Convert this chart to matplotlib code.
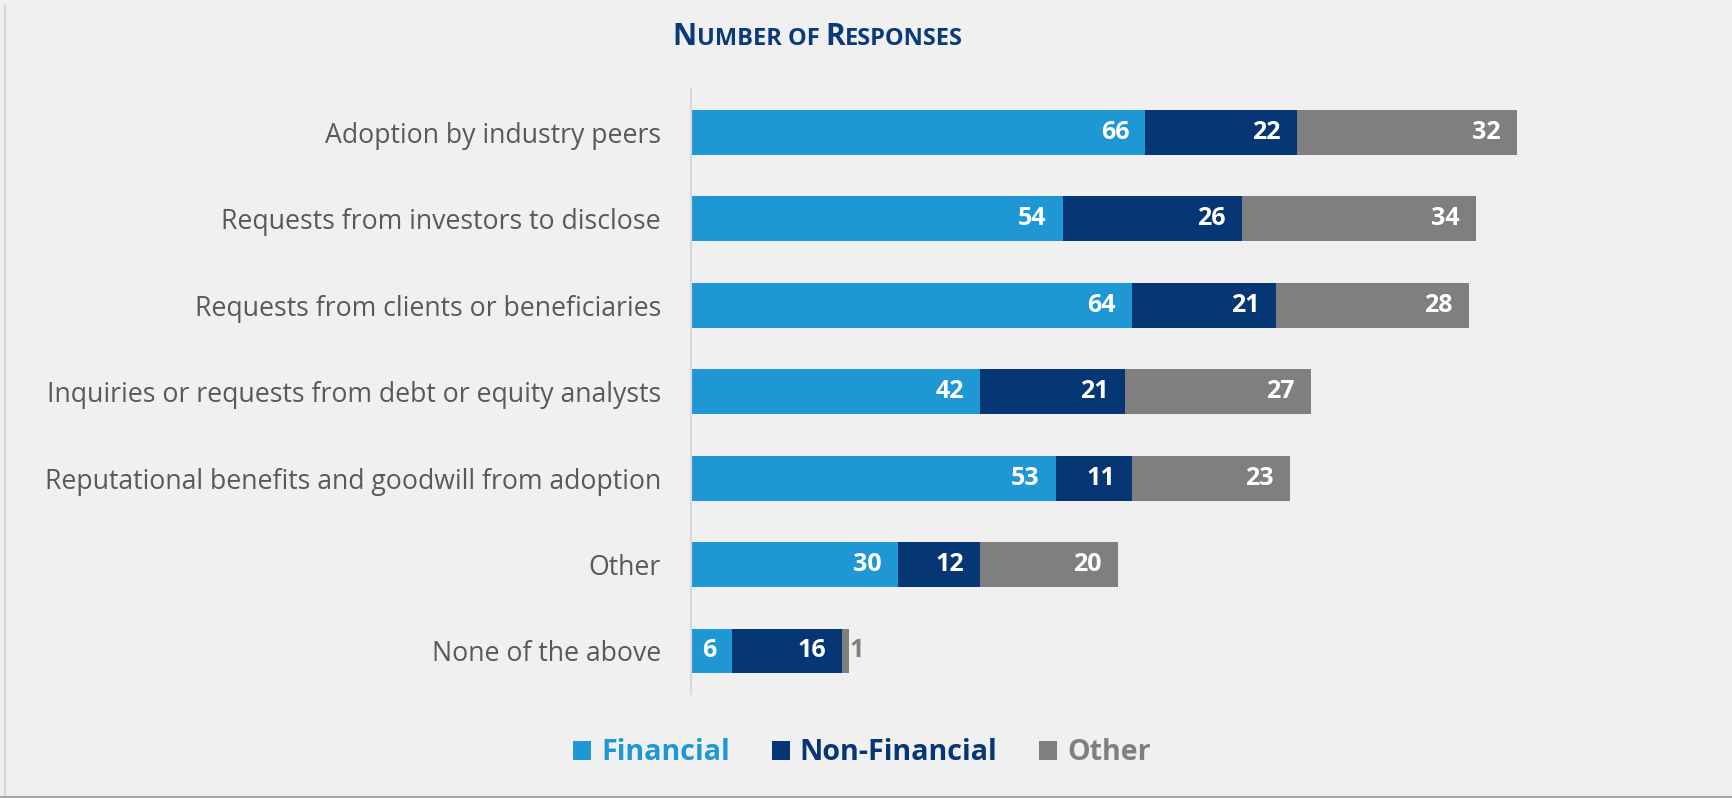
import matplotlib
matplotlib.use("Agg")
import matplotlib.pyplot as plt
from matplotlib.patches import Patch
from matplotlib.lines import Line2D
import numpy as np

plt.rcParams['font.family'] = ['Open Sans', 'DejaVu Sans']

categories = [
    "Adoption by industry peers",
    "Requests from investors to disclose",
    "Requests from clients or beneficiaries",
    "Inquiries or requests from debt or equity analysts",
    "Reputational benefits and goodwill from adoption",
    "Other",
    "None of the above",
]
financial = [66, 54, 64, 42, 53, 30, 6]
non_financial = [22, 26, 21, 21, 11, 12, 16]
other = [32, 34, 28, 27, 23, 20, 1]

series_names = ["Financial", "Non-Financial", "Other"]
colors = ["#1f97d4", "#063673", "#7f7f7f"]

BG = "#f0f0f0"
W, H = 1733, 798
fig = plt.figure(figsize=(W / 100, H / 100), dpi=100, facecolor=BG)
ax = fig.add_axes([691 / W, 1 - 694.2 / H, 963.7 / W, (694.2 - 89.3) / H])
ax.set_facecolor(BG)

y = np.arange(len(categories))
left = np.zeros(len(categories))
for vals, name, col in zip([financial, non_financial, other], series_names, colors):
    vals = np.array(vals, dtype=float)
    bars = ax.barh(y, vals, left=left, height=0.52, color=col, label=name)
    for b, v in zip(bars, vals):
        end = b.get_x() + b.get_width()
        if v >= 5:
            ax.annotate(f"{int(v)}", (end, b.get_y() + b.get_height() / 2),
                        xytext=(-11.5, 0), textcoords="offset points",
                        ha="right", va="center", color="white",
                        fontsize=18, fontweight="bold")
        else:
            # too thin to hold its label, put it just outside
            ax.annotate(f"{int(v)}", (end, b.get_y() + b.get_height() / 2),
                        xytext=(0.3, 0), textcoords="offset points",
                        ha="left", va="center", color=col,
                        fontsize=18, fontweight="bold")
    left += vals

ax.set_xlim(0, 140)
ax.set_ylim(len(categories) - 0.5, -0.5)
ax.set_yticks(y)
ax.set_yticklabels(categories, fontsize=19.2, color="#595959")
ax.tick_params(axis="y", length=0, pad=21.6)
ax.set_xticks([])
for s in ["top", "right", "bottom"]:
    ax.spines[s].set_visible(False)
ax.spines["left"].set_color("#d9d9d9")
ax.spines["left"].set_linewidth(1.6)

# legend
handles = [Patch(facecolor=c, edgecolor="none") for c in colors]
fig.legend(handles, series_names, loc="center", bbox_to_anchor=(862 / W, 1 - 753 / H),
           ncol=3, frameon=False, handlelength=0.64, handleheight=0.64,
           handletextpad=0.35, columnspacing=1.45, labelcolor=colors,
           prop={"weight": "bold", "size": 20.6})

# title in small caps, built from pieces
title_color = "#0a3a78"
pieces = [("N", 21.5), ("UMBER OF ", 17), ("R", 21.5), ("ESPONSES", 17)]
renderer = fig.canvas.get_renderer()
texts = []
for s, size in pieces:
    t = fig.text(0, 1 - 45 / H, s, fontsize=size, fontweight="bold",
                 color=title_color, ha="left", va="baseline")
    texts.append(t)
widths = [t.get_window_extent(renderer).width for t in texts]
x = 818 - sum(widths) / 2
for t, w in zip(texts, widths):
    t.set_x(x / W)
    x += w

# frame: faint left shadow and bottom rule
fig.add_artist(Line2D([4.5 / W, 4.5 / W], [0, 1 - 5 / H], color="#d6d6d6", lw=1.5))
fig.add_artist(Line2D([0, 1], [1.5 / H, 1.5 / H], color="#a6a6a6", lw=2.2))

fig.savefig("out.png", dpi=100, facecolor=BG)
